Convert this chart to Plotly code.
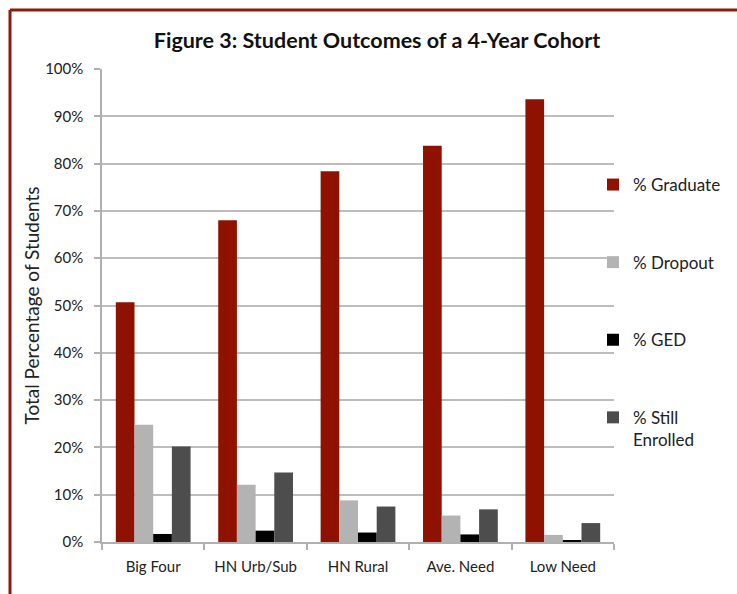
import plotly.graph_objects as go

categories = ["Big Four", "HN Urb/Sub", "HN Rural", "Ave. Need", "Low Need"]
graduate = [50.7, 68.0, 78.4, 83.8, 93.6]
dropout = [24.8, 12.1, 8.8, 5.6, 1.5]
ged = [1.7, 2.4, 2.0, 1.6, 0.25]
still_enrolled = [20.2, 14.7, 7.5, 6.9, 4.0]

series = [
    ("% Graduate", graduate, "#8f1200"),
    ("% Dropout", dropout, "#b3b3b3"),
    ("% GED", ged, "#000000"),
    ("% Still<br>Enrolled", still_enrolled, "#4d4d4d"),
]

W, H = 737, 594
ML, MR, MT, MB = 102, 123, 69, 52

FONT = "Lato, 'Open Sans', sans-serif"

fig = go.Figure()
for i, (name, vals, col) in enumerate(series):
    fig.add_trace(go.Bar(
        x=categories, y=vals, name=name,
        marker=dict(color=col, line=dict(width=0)),
        legendgroup=f"g{i}",
    ))

pw = W - ML - MR
ph = H - MT - MB
def px_x(px):
    return (px - ML) / pw
def px_y(py):
    return (H - MB - py) / ph

fig.update_layout(
    width=W, height=H,
    margin=dict(l=ML, r=MR, t=MT, b=MB, pad=0, autoexpand=False),
    paper_bgcolor="white", plot_bgcolor="white",
    font=dict(family=FONT, color="#222222", size=15),
    barmode="group", bargap=0.27, bargroupgap=0,
    title=dict(text="<b>Figure 3: Student Outcomes of a 4-Year Cohort</b>",
               x=377 / W, xref="container", xanchor="center",
               y=1 - 40 / H, yref="container", yanchor="middle",
               font=dict(family=FONT, size=21.5, color="#111111")),
    showlegend=True,
    legend=dict(x=593 / W, xref="container", xanchor="left",
                y=1 - 167 / H, yref="container", yanchor="top",
                font=dict(family=FONT, size=17, color="#222222"),
                traceorder="grouped", tracegroupgap=52.5, valign="top",
                itemwidth=30, bgcolor="rgba(0,0,0,0)", maxheight=420),
    xaxis=dict(showline=True, linecolor="#b0b0b0", linewidth=1.5,
               ticks="outside", tickson="boundaries", ticklen=6,
               tickcolor="#b0b0b0", tickwidth=1.5,
               ticklabelstandoff=10,
               tickfont=dict(family=FONT, size=15, color="#222222"),
               showgrid=False),
    yaxis=dict(range=[0, 100], dtick=10, ticksuffix="%",
               showline=True, linecolor="#b0b0b0", linewidth=1.5,
               ticks="outside", ticklen=6, tickcolor="#b0b0b0", tickwidth=1.5,
               ticklabelstandoff=8,
               showgrid=True, gridcolor="#bdbdbd", gridwidth=1.5,
               zeroline=False,
               tickfont=dict(family=FONT, size=15, color="#222222"),
               title=dict(text="Total Percentage of Students", standoff=0,
                          font=dict(family=FONT, size=19, color="#222222"))),
)

# frame lines (left and top)
fig.add_shape(type="line", xref="paper", yref="paper",
              x0=px_x(10), x1=px_x(W + 5), y0=px_y(10), y1=px_y(10),
              line=dict(color="#8b1a10", width=3))
fig.add_shape(type="line", xref="paper", yref="paper",
              x0=px_x(10), x1=px_x(10), y0=px_y(10), y1=px_y(H + 5),
              line=dict(color="#8b1a10", width=3))

fig.write_html("out.html")
